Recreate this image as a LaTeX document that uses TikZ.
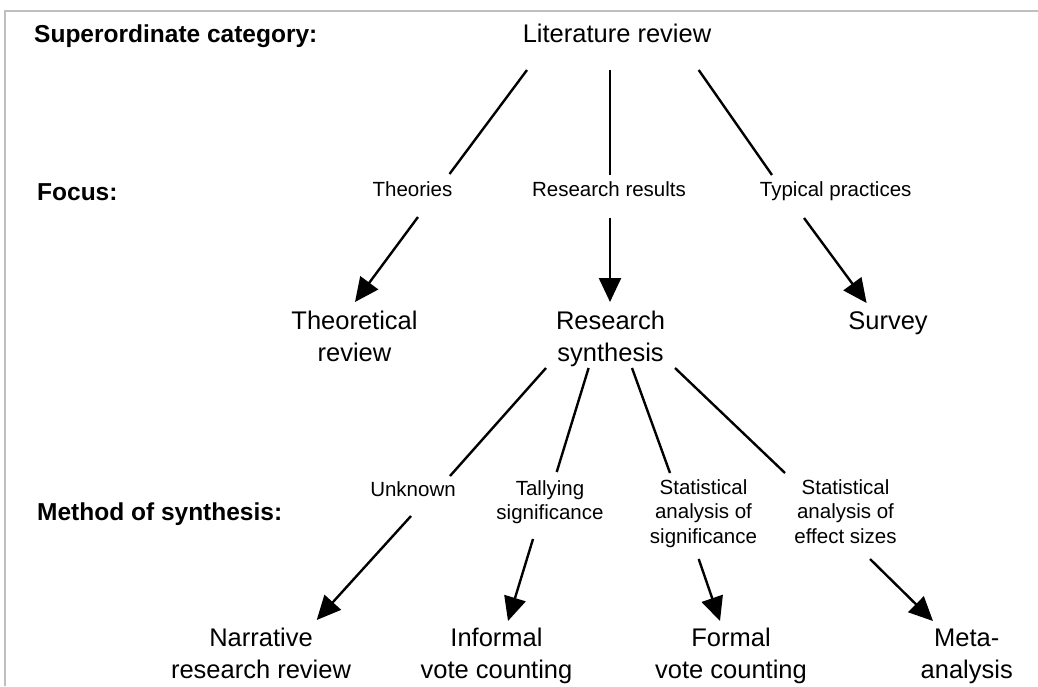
\documentclass[tikz,border=0pt]{standalone}
\usepackage{fontspec}
\setmainfont{Liberation Sans}
\usetikzlibrary{arrows.meta,calc}
\begin{document}
\begin{tikzpicture}[x=1pt,y=-1pt,
  big/.style={font=\fontsize{25.5}{32}\selectfont, align=center, anchor=base, inner sep=0pt},
  small/.style={font=\fontsize{20.5}{24.5}\selectfont, align=center, anchor=base, inner sep=0pt},
  lab/.style={font=\fontsize{24.5}{28}\selectfont\bfseries, anchor=base west, inner sep=0pt},
  conn/.style={line width=2.4pt},
  arr/.style={line width=2.4pt, -{Triangle[length=24pt,width=22pt]}},
  frameline/.style={draw=black!25, line width=1.5pt}]
\useasboundingbox (0,0) rectangle (1038,686);
% frame
\coordinate (fbl) at (5,686);
\coordinate (ftl) at (5,11);
\coordinate (ftr) at (1038,11);
\draw[frameline] (fbl) -- (ftl) -- (ftr);
% row labels
\node[lab] (sup) at (34,42.5) {Superordinate category:};
\node[lab] (focus) at (37,200) {Focus:};
\node[lab] (method) at (37,520) {Method of synthesis:};
% nodes (anchor = baseline of last line)
\node[big] (lit) at (617,42.7) {Literature review};
\node[small] (theories) at (412.5,196) {Theories};
\node[small] (results) at (609,196) {Research results};
\node[small] (typical) at (835.7,196) {Typical practices};
\node[big] (theo) at (354.5,361) {Theoretical\\review};
\node[big] (synth) at (610.6,361) {Research\\synthesis};
\node[big] (survey) at (888,329) {Survey};
\node[small] (unknown) at (413,496) {Unknown};
\node[small] (tally) at (550,519.5) {Tallying\\significance};
\node[small] (statsig) at (703.5,543) {Statistical\\analysis of\\significance};
\node[small] (effect) at (845.5,543) {Statistical\\analysis of\\effect sizes};
\node[big] (narr) at (261,678.5) {Narrative\\research review};
\node[big] (informal) at (496.5,678.5) {Informal\\vote counting};
\node[big] (formal) at (731,678.5) {Formal\\vote counting};
\node[big] (meta) at (966.7,678.5) {Meta-\\analysis};
% top connectors
\draw[conn] ($(lit.base)+(-90,27.3)$) -- ($(theories.base)+(37,-22)$);
\draw[conn] ($(lit.base)+(-7,27.3)$) -- ($(results.base)+(1,-21)$);
\draw[conn] ($(lit.base)+(81.7,27.3)$) -- ($(typical.base)+(-63.7,-21)$);
% focus arrows
\draw[arr] ($(theories.base)+(5.5,21)$) -- ($(theo.base)+(0.5,-59)$);
\draw[arr] ($(results.base)+(1,22)$) -- ($(synth.base)+(-0.6,-59)$);
\draw[arr] ($(typical.base)+(-31.7,22)$) -- ($(survey.base)+(-21.4,-26)$);
% synthesis connectors
\draw[conn] ($(synth.base)+(-64.6,7)$) -- ($(unknown.base)+(37,-20)$);
\draw[conn] ($(synth.base)+(-22,7)$) -- ($(tally.base)+(6.7,-47.5)$);
\draw[conn] ($(synth.base)+(21.4,7)$) -- ($(statsig.base)+(-33.5,-70)$);
\draw[conn] ($(synth.base)+(64.4,7)$) -- ($(effect.base)+(-60.5,-70)$);
% method arrows
\draw[arr] ($(unknown.base)+(-2,20)$) -- ($(narr.base)+(55.7,-58.5)$);
\draw[arr] ($(tally.base)+(-17,19.5)$) -- ($(informal.base)+(11.5,-57.5)$);
\draw[arr] ($(statsig.base)+(-4.8,16)$) -- ($(formal.base)+(-11,-57.5)$);
\draw[arr] ($(effect.base)+(24.5,16)$) -- ($(meta.base)+(-33.7,-57.5)$);
\end{tikzpicture}
\end{document}
